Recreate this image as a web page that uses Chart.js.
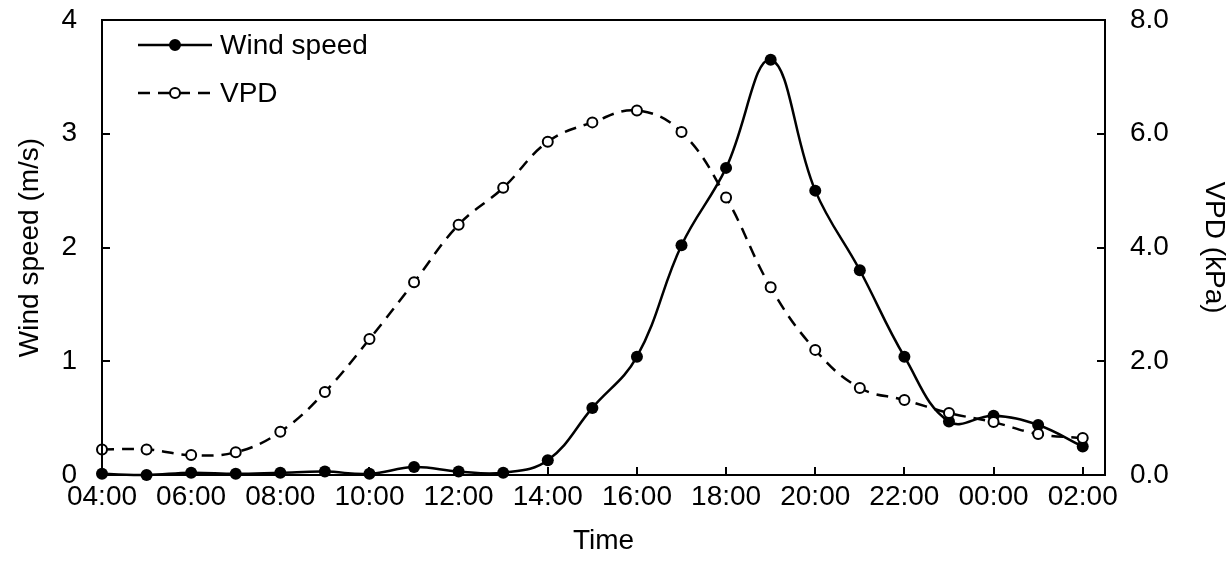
<!DOCTYPE html>
<html>
<head>
<meta charset="utf-8">
<script src="https://cdn.jsdelivr.net/npm/chart.js@4.4.0/dist/chart.umd.min.js"></script>
<style>
  html, body { margin: 0; padding: 0; background: #fff; }
  #wrap { width: 1231px; height: 564px; }
</style>
</head>
<body>
<div id="wrap"><canvas id="chart" width="1231" height="564"></canvas></div>
<script>
// data
const hours = ["04:00", "05:00", "06:00", "07:00", "08:00", "09:00", "10:00", "11:00",
    "12:00", "13:00", "14:00", "15:00", "16:00", "17:00", "18:00", "19:00", "20:00",
    "21:00", "22:00", "23:00", "00:00", "01:00", "02:00"];
const wind_speed = [0.01, 0.0, 0.02, 0.01, 0.02, 0.03, 0.01, 0.07, 0.03, 0.02, 0.13, 0.59,
    1.04, 2.02, 2.70, 3.65, 2.50, 1.80, 1.04, 0.47, 0.52, 0.44, 0.25];
const vpd = [0.45, 0.45, 0.35, 0.40, 0.76, 1.46, 2.39, 3.39, 4.40, 5.05, 5.86, 6.20,
    6.41, 6.03, 4.88, 3.30, 2.20, 1.53, 1.32, 1.09, 0.93, 0.72, 0.65];
const wind_ticks = [0, 1, 2, 3, 4];
const vpd_ticks = [0, 2, 4, 6, 8];

const font_family = "'Liberation Sans', Arial, sans-serif";
const font_size = 28;

// points for linear x scale (hour index)
const toPoints = (list) => list.map((v, i) => ({ x: i, y: v }));

// fixed box sizes so the plot area lands where the picture has it
function fixSize(scale, w, h) {
    if (w !== null) scale.width = w;
    if (h !== null) scale.height = h;
    scale.paddingTop = 0;
    scale.paddingBottom = 0;
    scale.paddingLeft = 0;
    scale.paddingRight = 0;
}

// box, inward ticks and legend, drawn after the datasets
const frame_plugin = {
    id: "frame",
    afterDatasetsDraw(chart) {
        const c = chart.ctx;
        const area = chart.chartArea;
        const x = chart.scales.x;
        const yl = chart.scales.y;
        const yr = chart.scales.y2;
        const tick = 8;

        c.save();
        c.strokeStyle = "#000";
        c.lineWidth = 2;
        c.strokeRect(area.left, area.top, area.right - area.left, area.bottom - area.top);

        c.beginPath();
        for (let i = 0; i < hours.length; i += 2) {
            const px = Math.round(x.getPixelForValue(i));
            c.moveTo(px, area.bottom);
            c.lineTo(px, area.bottom - tick);
        }
        wind_ticks.forEach((t) => {
            const py = Math.round(yl.getPixelForValue(t));
            c.moveTo(area.left, py);
            c.lineTo(area.left + tick, py);
        });
        vpd_ticks.forEach((t) => {
            const py = Math.round(yr.getPixelForValue(t));
            c.moveTo(area.right, py);
            c.lineTo(area.right - tick, py);
        });
        c.stroke();

        // legend
        const lx = area.left + 36;
        const items = [
            { label: "Wind speed", y: area.top + 25, dash: [], fill: "#000" },
            { label: "VPD", y: area.top + 73, dash: [12, 8], fill: "#fff" },
        ];
        c.font = font_size + "px " + font_family;
        c.textBaseline = "middle";
        c.fillStyle = "#000";
        items.forEach((it) => {
            c.setLineDash(it.dash);
            c.lineWidth = 2.5;
            c.beginPath();
            c.moveTo(lx, it.y);
            c.lineTo(lx + 74, it.y);
            c.stroke();
            c.setLineDash([]);
            c.beginPath();
            c.arc(lx + 37, it.y, 5, 0, Math.PI * 2);
            c.fillStyle = it.fill;
            c.fill();
            c.lineWidth = 2;
            c.stroke();
            c.fillStyle = "#000";
            c.fillText(it.label, lx + 82, it.y + 1);
        });
        c.restore();
    },
};

const ctx = document.getElementById("chart").getContext("2d");

new Chart(ctx, {
    type: "line",
    data: {
        datasets: [
            {
                label: "Wind speed",
                data: toPoints(wind_speed),
                yAxisID: "y",
                borderColor: "#000",
                borderWidth: 2.5,
                backgroundColor: "#000",
                pointBackgroundColor: "#000",
                pointBorderColor: "#000",
                pointRadius: 6,
                pointBorderWidth: 0,
                tension: 0.4,
                clip: false,
                order: 1,
            },
            {
                label: "VPD",
                data: toPoints(vpd),
                yAxisID: "y2",
                borderColor: "#000",
                borderWidth: 2.5,
                borderDash: [12, 8],
                backgroundColor: "#fff",
                pointBackgroundColor: "#fff",
                pointBorderColor: "#000",
                pointRadius: 5,
                pointBorderWidth: 2,
                tension: 0.4,
                clip: false,
                order: 0,
            },
        ],
    },
    options: {
        responsive: false,
        animation: false,
        layout: { padding: { top: 20, left: 0, right: 0, bottom: 0 } },
        plugins: {
            legend: { display: false },
            tooltip: { enabled: false },
        },
        scales: {
            x: {
                type: "linear",
                min: 0,
                max: 22.5,
                afterBuildTicks: (scale) => {
                    scale.ticks = hours.map((h, i) => ({ value: i })).filter((t) => t.value % 2 === 0);
                },
                afterFit: (scale) => fixSize(scale, null, 89),
                grid: { display: false, drawTicks: false },
                border: { display: false },
                ticks: {
                    autoSkip: false,
                    maxRotation: 0,
                    padding: 5,
                    color: "#000",
                    font: { family: font_family, size: font_size },
                    callback: (v) => hours[v],
                },
                title: {
                    display: true,
                    text: "Time",
                    color: "#000",
                    padding: { top: 0, bottom: 6 },
                    font: { family: font_family, size: font_size },
                },
            },
            y: {
                position: "left",
                min: 0,
                max: 4,
                afterBuildTicks: (scale) => {
                    scale.ticks = wind_ticks.map((v) => ({ value: v }));
                },
                afterFit: (scale) => fixSize(scale, 102, null),
                grid: { display: false, drawTicks: false },
                border: { display: false },
                ticks: {
                    padding: 25,
                    color: "#000",
                    font: { family: font_family, size: font_size },
                },
                title: {
                    display: true,
                    text: "Wind speed (m/s)",
                    color: "#000",
                    padding: { top: 13, bottom: 0 },
                    font: { family: font_family, size: font_size },
                },
            },
            y2: {
                position: "right",
                min: 0,
                max: 8,
                afterBuildTicks: (scale) => {
                    scale.ticks = vpd_ticks.map((v) => ({ value: v }));
                },
                afterFit: (scale) => fixSize(scale, 126, null),
                grid: { display: false, drawTicks: false },
                border: { display: false },
                ticks: {
                    padding: 25,
                    color: "#000",
                    font: { family: font_family, size: font_size },
                    callback: (v) => v.toFixed(1),
                },
                title: {
                    display: true,
                    text: "VPD (kPa)",
                    color: "#000",
                    padding: { top: 0, bottom: 3 },
                    font: { family: font_family, size: font_size },
                },
            },
        },
    },
    plugins: [frame_plugin],
});
</script>
</body>
</html>
